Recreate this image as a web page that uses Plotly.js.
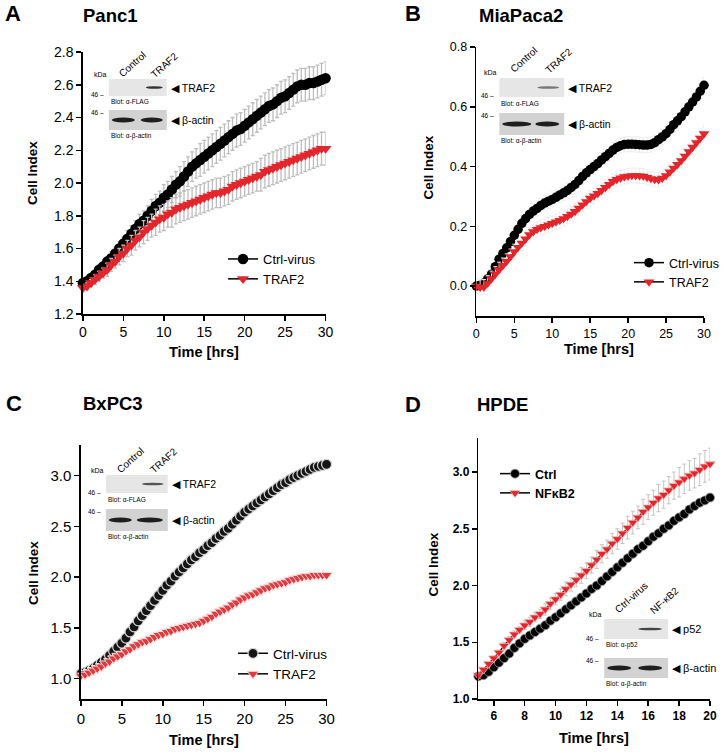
<!DOCTYPE html>
<html>
<head>
<meta charset="utf-8">
<script src="https://cdn.plot.ly/plotly-3.0.1.min.js"></script>
<style>
  html, body { margin: 0; padding: 0; background: #fff; }
  #chart { width: 724px; height: 752px; }
</style>
</head>
<body>
<div id="chart"></div>
<script>
const W = 724, H = 752;
const FONT = 'Liberation Sans, Arial, Helvetica, sans-serif';
const RED = '#e3262b';

// time grids (hrs): A-C sampled every 30 min, D every 20 min
const tHalf = Array.from({ length: 61 }, (_, i) => i * 0.5);
const tThird = Array.from({ length: 46 }, (_, i) => 5 + i / 3);

// A: Panc1
const panc1Ctrl = [
  1.39, 1.40, 1.42, 1.44, 1.47, 1.49, 1.52, 1.54, 1.57, 1.60,
  1.63, 1.66, 1.69, 1.72, 1.75, 1.77, 1.80, 1.83, 1.86, 1.88,
  1.91, 1.93, 1.96, 1.99, 2.01, 2.04, 2.07, 2.10, 2.12, 2.14,
  2.16, 2.18, 2.20, 2.22, 2.24, 2.26, 2.28, 2.30, 2.32, 2.33,
  2.35, 2.37, 2.39, 2.41, 2.43, 2.45, 2.47, 2.48, 2.50, 2.52,
  2.53, 2.55, 2.57, 2.59, 2.60, 2.60, 2.61, 2.61, 2.62, 2.63,
  2.64];
const panc1CtrlErr = [
  0.02, 0.02, 0.02, 0.03, 0.03, 0.03, 0.03, 0.04, 0.04, 0.04,
  0.04, 0.05, 0.05, 0.05, 0.06, 0.06, 0.06, 0.07, 0.07, 0.07,
  0.08, 0.08, 0.08, 0.08, 0.09, 0.09, 0.09, 0.09, 0.09, 0.10,
  0.10, 0.10, 0.10, 0.10, 0.10, 0.10, 0.10, 0.10, 0.10, 0.10,
  0.10, 0.10, 0.10, 0.10, 0.10, 0.10, 0.10, 0.10, 0.10, 0.10,
  0.10, 0.10, 0.10, 0.10, 0.10, 0.10, 0.10, 0.10, 0.10, 0.10,
  0.10];
const panc1Traf2 = [
  1.36, 1.37, 1.39, 1.41, 1.43, 1.45, 1.47, 1.50, 1.52, 1.55,
  1.57, 1.60, 1.62, 1.65, 1.67, 1.70, 1.72, 1.74, 1.76, 1.78,
  1.79, 1.81, 1.82, 1.84, 1.85, 1.86, 1.87, 1.88, 1.89, 1.90,
  1.91, 1.92, 1.93, 1.94, 1.94, 1.95, 1.96, 1.98, 1.99, 2.00,
  2.01, 2.02, 2.03, 2.04, 2.05, 2.07, 2.08, 2.09, 2.10, 2.11,
  2.12, 2.13, 2.14, 2.15, 2.16, 2.17, 2.18, 2.19, 2.20, 2.21,
  2.21];
const panc1Traf2Err = [
  0.02, 0.02, 0.02, 0.03, 0.03, 0.03, 0.04, 0.04, 0.04, 0.05,
  0.05, 0.05, 0.06, 0.06, 0.06, 0.07, 0.07, 0.07, 0.08, 0.08,
  0.08, 0.08, 0.09, 0.09, 0.09, 0.09, 0.09, 0.09, 0.09, 0.09,
  0.09, 0.09, 0.09, 0.09, 0.09, 0.09, 0.09, 0.09, 0.09, 0.09,
  0.09, 0.09, 0.09, 0.09, 0.10, 0.10, 0.10, 0.10, 0.10, 0.10,
  0.10, 0.10, 0.10, 0.10, 0.10, 0.10, 0.10, 0.10, 0.10, 0.10,
  0.10];

// B: MiaPaca2
const miaCtrl = [
  0.000, 0.003, 0.010, 0.024, 0.040, 0.065, 0.090, 0.109, 0.128, 0.149,
  0.170, 0.190, 0.210, 0.226, 0.240, 0.251, 0.260, 0.270, 0.278, 0.284,
  0.290, 0.297, 0.305, 0.312, 0.320, 0.330, 0.340, 0.353, 0.367, 0.379,
  0.390, 0.400, 0.410, 0.422, 0.433, 0.444, 0.455, 0.464, 0.470, 0.474,
  0.475, 0.475, 0.474, 0.473, 0.472, 0.472, 0.474, 0.480, 0.490, 0.499,
  0.510, 0.524, 0.540, 0.553, 0.567, 0.583, 0.600, 0.616, 0.633, 0.652,
  0.672];
const miaTraf2 = [
  0.000, -0.004, -0.003, 0.010, 0.025, 0.040, 0.055, 0.069, 0.083, 0.099,
  0.115, 0.130, 0.144, 0.158, 0.172, 0.182, 0.190, 0.196, 0.200, 0.205,
  0.210, 0.215, 0.220, 0.226, 0.233, 0.241, 0.250, 0.261, 0.272, 0.283,
  0.294, 0.302, 0.310, 0.320, 0.330, 0.340, 0.350, 0.357, 0.362, 0.366,
  0.368, 0.370, 0.370, 0.369, 0.368, 0.364, 0.360, 0.357, 0.356, 0.361,
  0.370, 0.382, 0.395, 0.407, 0.420, 0.435, 0.450, 0.465, 0.480, 0.495,
  0.510];
const miaErr = 0.025;

// C: BxPC3
const bxCtrl = [
  1.05, 1.06, 1.08, 1.10, 1.13, 1.16, 1.19, 1.23, 1.27, 1.31,
  1.35, 1.40, 1.46, 1.51, 1.57, 1.62, 1.67, 1.72, 1.77, 1.82,
  1.87, 1.92, 1.96, 2.01, 2.05, 2.09, 2.13, 2.17, 2.20, 2.24,
  2.27, 2.31, 2.34, 2.38, 2.41, 2.45, 2.48, 2.52, 2.56, 2.60,
  2.64, 2.67, 2.70, 2.73, 2.76, 2.79, 2.82, 2.85, 2.88, 2.91,
  2.93, 2.96, 2.98, 3.00, 3.02, 3.04, 3.06, 3.08, 3.09, 3.10,
  3.11];
const bxTraf2 = [
  1.03, 1.04, 1.06, 1.08, 1.10, 1.12, 1.15, 1.17, 1.20, 1.22,
  1.24, 1.27, 1.29, 1.32, 1.34, 1.36, 1.37, 1.39, 1.41, 1.43,
  1.44, 1.46, 1.47, 1.49, 1.50, 1.51, 1.52, 1.53, 1.54, 1.55,
  1.57, 1.59, 1.61, 1.64, 1.66, 1.68, 1.70, 1.73, 1.75, 1.78,
  1.80, 1.82, 1.83, 1.85, 1.87, 1.89, 1.90, 1.92, 1.93, 1.94,
  1.95, 1.97, 1.98, 1.99, 2.00, 2.01, 2.01, 2.02, 2.02, 2.02,
  2.02];
const bxErr = 0.05;

// D: HPDE
const hpdeCtrl = [
  1.20, 1.21, 1.24, 1.28, 1.32, 1.36, 1.40, 1.45, 1.49, 1.53,
  1.56, 1.59, 1.62, 1.65, 1.69, 1.72, 1.755, 1.79, 1.825, 1.86,
  1.895, 1.93, 1.97, 2.00, 2.04, 2.08, 2.12, 2.16, 2.20, 2.24,
  2.28, 2.32, 2.35, 2.39, 2.43, 2.46, 2.50, 2.53, 2.57, 2.60,
  2.63, 2.67, 2.70, 2.73, 2.75, 2.775];
const hpdeCtrlErr = 0.02;
const hpdeNfkb2 = [
  1.21, 1.26, 1.31, 1.36, 1.41, 1.47, 1.52, 1.57, 1.61, 1.65,
  1.68, 1.72, 1.75, 1.79, 1.84, 1.88, 1.92, 1.97, 2.01, 2.05,
  2.09, 2.13, 2.18, 2.23, 2.28, 2.32, 2.37, 2.41, 2.46, 2.51,
  2.555, 2.60, 2.65, 2.69, 2.73, 2.77, 2.80, 2.84, 2.88, 2.91,
  2.94, 2.97, 2.99, 3.02, 3.05, 3.07];
const hpdeNfkb2Err = [
  0.01, 0.01, 0.02, 0.02, 0.02, 0.03, 0.03, 0.03, 0.03, 0.04,
  0.04, 0.04, 0.04, 0.05, 0.05, 0.05, 0.05, 0.06, 0.06, 0.06,
  0.07, 0.07, 0.07, 0.08, 0.08, 0.08, 0.09, 0.09, 0.09, 0.10,
  0.10, 0.10, 0.11, 0.11, 0.11, 0.12, 0.12, 0.12, 0.12, 0.13,
  0.13, 0.13, 0.13, 0.14, 0.14, 0.14];

// pixel -> paper helpers
const px = x => x / W;
const py = y => 1 - y / H;

function errBar(vals, color, thickness) {
  const e = Array.isArray(vals)
    ? { type: 'data', array: vals }
    : { type: 'constant', value: vals };
  return Object.assign(e, { visible: true, color, thickness: thickness || 1, width: 2 });
}

function series(name, x, y, err, opts) {
  return {
    name, x, y,
    type: 'scatter', mode: 'lines+markers',
    xaxis: opts.xaxis, yaxis: opts.yaxis, legend: opts.legend,
    line: { color: opts.lineColor || '#000', width: 1.5 },
    marker: {
      symbol: opts.symbol, size: opts.size, color: opts.color,
      line: opts.edge || { width: 0 },
    },
    error_y: errBar(err, opts.errColor, opts.errWidth),
    cliponaxis: false,
    hoverinfo: 'skip',
  };
}

const traces = [
  series('Ctrl-virus', tHalf, panc1Ctrl, panc1CtrlErr,
    { xaxis: 'x', yaxis: 'y', legend: 'legend', symbol: 'circle', size: 10.5, color: '#000',
      errColor: '#bdbdbd', errWidth: 1.3 }),
  series('TRAF2', tHalf, panc1Traf2, panc1Traf2Err,
    { xaxis: 'x', yaxis: 'y', legend: 'legend', symbol: 'triangle-down', size: 10.5, color: RED,
      errColor: '#bdbdbd', errWidth: 1.3 }),
  series('Ctrl-virus', tHalf, miaCtrl, miaErr,
    { xaxis: 'x2', yaxis: 'y2', legend: 'legend2', symbol: 'circle', size: 9.5, color: '#000', errColor: '#ededed' }),
  series('TRAF2', tHalf, miaTraf2, miaErr,
    { xaxis: 'x2', yaxis: 'y2', legend: 'legend2', symbol: 'triangle-down', size: 9.5, color: RED, errColor: '#ededed' }),
  series('Ctrl-virus', tHalf, bxCtrl, bxErr,
    { xaxis: 'x3', yaxis: 'y3', legend: 'legend3', symbol: 'circle', size: 10, color: '#151515',
      edge: { color: '#d6d6d6', width: 1.2 }, errColor: '#f0f0f0' }),
  series('TRAF2', tHalf, bxTraf2, bxErr,
    { xaxis: 'x3', yaxis: 'y3', legend: 'legend3', symbol: 'triangle-down', size: 10, color: '#e03a3e',
      edge: { color: '#f8dada', width: 1 }, errColor: '#f0f0f0' }),
  series('Ctrl', tThird, hpdeCtrl, hpdeCtrlErr,
    { xaxis: 'x4', yaxis: 'y4', legend: 'legend4', symbol: 'circle', size: 9, color: '#000',
      edge: { color: '#9a9a9a', width: 0.8 }, errColor: '#bdbdbd' }),
  series('NF\u03baB2', tThird, hpdeNfkb2, hpdeNfkb2Err,
    { xaxis: 'x4', yaxis: 'y4', legend: 'legend4', symbol: 'triangle-down', size: 9, color: RED,
      edge: { color: '#f3b5b5', width: 0.8 }, errColor: '#c4c4c4' }),
];

function axis(extra) {
  return Object.assign({
    showline: true, linecolor: '#000', linewidth: 1.6,
    ticks: 'outside', ticklen: 5, tickwidth: 1.5, tickcolor: '#000',
    showgrid: false, zeroline: false, fixedrange: true,
    tickfont: { family: FONT, size: 14, color: '#000' },
  }, extra);
}

function legendBox(x, y, size, weight) {
  return {
    x: px(x), y: py(y), xanchor: 'left', yanchor: 'top',
    bgcolor: 'rgba(0,0,0,0)', borderwidth: 0, itemwidth: 30,
    font: { family: FONT, size, color: '#000', weight: weight || 'normal' },
  };
}

const annotations = [];
const shapes = [];

function text(x, y, str, size, opts = {}) {
  annotations.push({
    xref: 'paper', yref: 'paper', x: px(x), y: py(y), text: str, showarrow: false,
    xanchor: opts.xanchor || 'center', yanchor: opts.yanchor || 'middle',
    textangle: opts.angle !== undefined ? opts.angle : 0,
    font: { family: FONT, size, color: '#000', weight: opts.bold ? 'bold' : 'normal' },
  });
}

function rect(x0, y0, x1, y1, fill) {
  shapes.push({ type: 'rect', xref: 'paper', yref: 'paper',
    x0: px(x0), x1: px(x1), y0: py(y1), y1: py(y0), fillcolor: fill, line: { width: 0 }, layer: 'above' });
}

function band(x0, x1, yc, h, fill) {
  shapes.push({ type: 'circle', xref: 'paper', yref: 'paper',
    x0: px(x0), x1: px(x1), y0: py(yc + h / 2), y1: py(yc - h / 2), fillcolor: fill, line: { width: 0 }, layer: 'above' });
}

// western blot inset
function blot(b) {
  rect(b.x0, b.top[0], b.x1, b.top[1], '#e6e6e6');
  rect(b.x0, b.bot[0], b.x1, b.bot[1], '#d2d2d2');
  const topMid = (b.top[0] + b.top[1]) / 2;
  const botMid = (b.bot[0] + b.bot[1]) / 2;
  band(b.band1[0], b.band1[1], topMid, 2.5, b.topBandColor);
  band(b.lane1[0], b.lane1[1], botMid, 5, '#1e1e1e');
  band(b.lane2[0], b.lane2[1], botMid, 5, '#1e1e1e');
  text(b.x0 - 17, b.top[0] - 5, 'kDa', 7, { xanchor: 'left' });
  b.laneNames.forEach((n, i) => text(b.laneLabel[i][0], b.laneLabel[i][1], n, 10, { angle: -42 }));
  text(b.x0 - 3, b.top[1] - 1, '46 \u2013', 6.5, { xanchor: 'right' });
  text(b.x0 - 3, b.bot[0] + 2, '46 \u2013', 6.5, { xanchor: 'right' });
  text(b.x1 + 2, topMid, '\u25C0 ' + b.topName, b.labelSize, { xanchor: 'left' });
  text(b.x1 + 2, botMid, '\u25C0 \u03b2-actin', b.labelSize, { xanchor: 'left' });
  text(b.x0, b.top[1] + 6, 'Blot: \u03b1-' + b.topBlot, 6.5, { xanchor: 'left' });
  text(b.x0, b.bot[1] + 6, 'Blot: \u03b1-\u03b2-actin', 6.5, { xanchor: 'left' });
}

blot({ x0: 109, x1: 167, top: [79, 96], bot: [110, 130], band1: [146, 163], topBandColor: '#333',
  lane1: [112, 135], lane2: [141, 163], laneNames: ['Control', 'TRAF2'],
  laneLabel: [[132, 64], [164, 65]], topName: 'TRAF2', topBlot: 'FLAG', labelSize: 10.5 });
blot({ x0: 500, x1: 565, top: [78, 97], bot: [113, 135], band1: [538, 560], topBandColor: '#777',
  lane1: [503, 532], lane2: [536, 560], laneNames: ['Control', 'TRAF2'],
  laneLabel: [[525, 60], [560, 61]], topName: 'TRAF2', topBlot: 'FLAG', labelSize: 10.5 });
blot({ x0: 106, x1: 168, top: [475, 493], bot: [509, 531], band1: [142, 164], topBandColor: '#555',
  lane1: [109, 132], lane2: [137, 163], laneNames: ['Control', 'TRAF2'],
  laneLabel: [[130, 460], [164, 461]], topName: 'TRAF2', topBlot: 'FLAG', labelSize: 10.5 });
blot({ x0: 605, x1: 669, top: [619, 639], bot: [658, 678], band1: [639, 663], topBandColor: '#444',
  lane1: [608, 632], lane2: [639, 663], laneNames: ['Ctrl-virus', 'NF-\u03baB2'],
  laneLabel: [[632, 597], [665, 600]], topName: 'p52', topBlot: 'p52', labelSize: 11 });

// panel letters, titles and axis titles
[
  ['A', 3, 14, 'Panc1', 81, 15],
  ['B', 404, 14, 'MiaPaca2', 478, 15],
  ['C', 4, 403, 'BxPC3', 81, 403],
  ['D', 404, 404, 'HPDE', 476, 404],
].forEach(([l, lx, ly, t, tx, ty]) => {
  text(lx, ly, l, 22, { xanchor: 'left', bold: true });
  text(tx, ty, t, 18.5, { xanchor: 'left', bold: true });
});
[[32, 173, 204, 352], [430, 167, 600, 349], [33, 573, 204, 740], [434, 564, 595, 738]]
  .forEach(([cx, cy, tx, ty]) => {
    text(cx, cy, 'Cell Index', 13.5, { angle: -90, bold: true });
    text(tx, ty, 'Time [hrs]', 14.5, { bold: true });
  });

const layout = {
  width: W, height: H,
  margin: { l: 0, r: 0, t: 0, b: 0 },
  paper_bgcolor: '#fff', plot_bgcolor: 'rgba(0,0,0,0)',
  font: { family: FONT, color: '#000' },
  showlegend: true,
  xaxis: axis({ domain: [px(83), px(326)], anchor: 'y', range: [0, 30], dtick: 5 }),
  yaxis: axis({ domain: [py(314), py(52)], anchor: 'x', range: [1.2, 2.8], dtick: 0.2, tickformat: '.1f' }),
  xaxis2: axis({ domain: [px(477), px(705)], anchor: 'y2', range: [0, 30], dtick: 5,
    tickfont: { family: FONT, size: 12.5, color: '#000' } }),
  yaxis2: axis({ domain: [py(316), py(47)], anchor: 'x2', range: [-0.1, 0.8], tick0: 0, dtick: 0.2, tickformat: '.1f',
    tickfont: { family: FONT, size: 12.5, color: '#000' } }),
  xaxis3: axis({ domain: [px(81), px(327)], anchor: 'y3', range: [0, 30], dtick: 5,
    tickfont: { family: FONT, size: 15, color: '#000' } }),
  yaxis3: axis({ domain: [py(699), py(445)], anchor: 'x3', range: [0.8, 3.3], tick0: 0, dtick: 0.5, tickformat: '.1f',
    tickfont: { family: FONT, size: 15, color: '#000' } }),
  xaxis4: axis({ domain: [px(479), px(711)], anchor: 'y4', range: [5, 20], tick0: 0, dtick: 2,
    tickfont: { family: FONT, size: 12, color: '#000', weight: 'bold' } }),
  yaxis4: axis({ domain: [py(699), py(438)], anchor: 'x4', range: [1.0, 3.3], tick0: 0, dtick: 0.5, tickformat: '.1f',
    tickfont: { family: FONT, size: 12, color: '#000', weight: 'bold' } }),
  legend: legendBox(223, 244, 13),
  legend2: legendBox(630, 248, 12.5),
  legend3: legendBox(233, 638, 13.5),
  legend4: legendBox(495, 459, 12.5, 'bold'),
  annotations,
  shapes,
};

Plotly.newPlot('chart', traces, layout, { staticPlot: true, displayModeBar: false });
</script>
</body>
</html>
